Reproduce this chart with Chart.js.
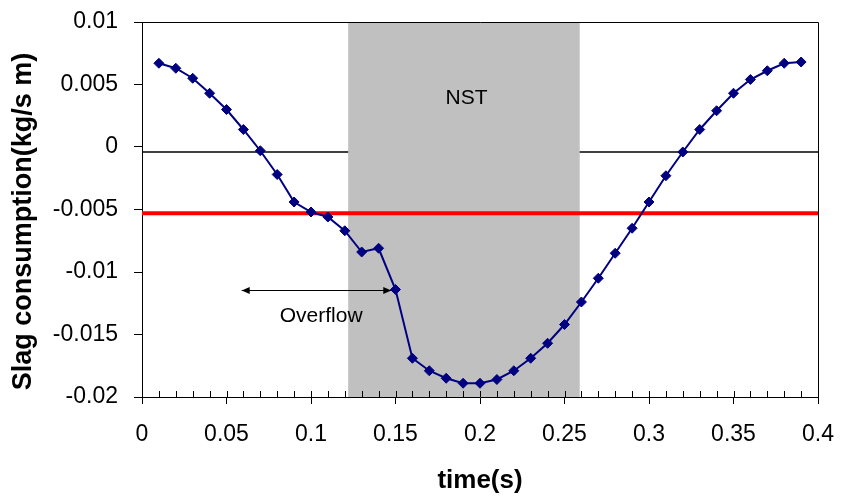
<!DOCTYPE html>
<html>
<head>
<meta charset="utf-8">
<title>Slag consumption</title>
<script src="https://cdn.jsdelivr.net/npm/chart.js@4.4.1/dist/chart.umd.min.js"></script>
<style>
  html, body { margin: 0; padding: 0; background: #fff; }
  canvas { display: block; }
</style>
</head>
<body>
<canvas id="slag-chart" width="854" height="496"></canvas>
<script>
// time (s) and slag consumption (kg/s m)
const times = [
    0.01, 0.02, 0.03, 0.04, 0.05, 0.06, 0.07, 0.08, 0.09, 0.10,
    0.11, 0.12, 0.13, 0.14, 0.15, 0.16, 0.17, 0.18, 0.19, 0.20,
    0.21, 0.22, 0.23, 0.24, 0.25, 0.26, 0.27, 0.28, 0.29, 0.30,
    0.31, 0.32, 0.33, 0.34, 0.35, 0.36, 0.37, 0.38, 0.39
];
const consumption = [
    0.0067, 0.0063, 0.0055, 0.0043, 0.0030, 0.0014, -0.0003, -0.0022, -0.0044, -0.0052,
    -0.0056, -0.0067, -0.0084, -0.0081, -0.0114, -0.0169, -0.0179, -0.0185, -0.0189, -0.0189,
    -0.0186, -0.0179, -0.0169, -0.0157, -0.0142, -0.0124, -0.0105, -0.0085, -0.0065, -0.0044,
    -0.0023, -0.0004, 0.0014, 0.0029, 0.0043, 0.0054, 0.0061, 0.0067, 0.0068
];

// reference lines, shaded NST window and the overflow arrow
const baseLevel = -0.0004;
const thresholdLevel = -0.0053;
const nstRange = [0.122, 0.259];
const overflowRange = [0.059, 0.1475];
const overflowLevel = -0.0114;
const labels = [
    { text: 'NST', x: 0.192, y: 0.0039 },
    { text: 'Overflow', x: 0.106, y: -0.0135 }
];

const xRange = [0, 0.4];
const yRange = [-0.02, 0.01];
const xStep = 0.05;
const xMinorStep = 0.01;
const yStep = 0.005;
const yTitle = 'Slag consumption(kg/s m)';

const FONT = "'Liberation Sans', Arial, sans-serif";

function fmt(v) {
    return String(Number(v.toFixed(4)));
}

const decorations = {
    id: 'decorations',
    beforeDatasetsDraw(chart) {
        const { ctx, chartArea: a, scales: { x, y } } = chart;
        ctx.save();
        // thin black line
        const yb = y.getPixelForValue(baseLevel);
        ctx.strokeStyle = '#000';
        ctx.lineWidth = 1.5;
        ctx.beginPath();
        ctx.moveTo(a.left, yb);
        ctx.lineTo(a.right, yb);
        ctx.stroke();
        // NST band
        const x0 = x.getPixelForValue(nstRange[0]);
        const x1 = x.getPixelForValue(nstRange[1]);
        ctx.fillStyle = '#c0c0c0';
        ctx.fillRect(x0, a.top, x1 - x0, a.bottom - a.top);
        ctx.restore();
    },
    afterDatasetsDraw(chart) {
        const { ctx, chartArea: a, scales: { x, y } } = chart;
        ctx.save();
        // frame top + right
        ctx.strokeStyle = '#000';
        ctx.lineWidth = 1;
        ctx.beginPath();
        ctx.moveTo(Math.round(a.left) + 0.5, Math.round(a.top) + 0.5);
        ctx.lineTo(Math.round(a.right) + 0.5, Math.round(a.top) + 0.5);
        ctx.lineTo(Math.round(a.right) + 0.5, a.bottom);
        ctx.stroke();

        // inner minor ticks on the time axis
        ctx.beginPath();
        const n = Math.round((xRange[1] - xRange[0]) / xMinorStep);
        for (let i = 1; i < n; i++) {
            const px = Math.round(x.getPixelForValue(xRange[0] + i * xMinorStep)) + 0.5;
            ctx.moveTo(px, a.bottom);
            ctx.lineTo(px, a.bottom - 6);
        }
        ctx.stroke();

        // overflow arrow
        const ay = Math.round(y.getPixelForValue(overflowLevel)) + 0.5;
        const ax0 = x.getPixelForValue(overflowRange[0]);
        const ax1 = x.getPixelForValue(overflowRange[1]);
        ctx.beginPath();
        ctx.moveTo(ax0, ay);
        ctx.lineTo(ax1, ay);
        ctx.stroke();
        ctx.fillStyle = '#000';
        ctx.beginPath();
        ctx.moveTo(ax0, ay);
        ctx.lineTo(ax0 + 8, ay - 3.5);
        ctx.lineTo(ax0 + 8, ay + 3.5);
        ctx.closePath();
        ctx.moveTo(ax1, ay);
        ctx.lineTo(ax1 - 8, ay - 3.5);
        ctx.lineTo(ax1 - 8, ay + 3.5);
        ctx.closePath();
        ctx.fill();

        // text labels
        ctx.font = '21px ' + FONT;
        ctx.textAlign = 'center';
        ctx.textBaseline = 'middle';
        labels.forEach(l => {
            ctx.fillText(l.text, x.getPixelForValue(l.x), y.getPixelForValue(l.y));
        });

        // y axis title, sits a little below the middle of the axis
        ctx.font = 'bold 27px ' + FONT;
        ctx.translate(24, (a.top + a.bottom) / 2 + 12);
        ctx.rotate(-Math.PI / 2);
        ctx.fillText(yTitle, 0, 0);
        ctx.restore();
    }
};

new Chart(document.getElementById('slag-chart'), {
    type: 'line',
    data: {
        datasets: [{
            data: times.map((t, i) => ({ x: t, y: consumption[i] })),
            borderColor: '#000080',
            backgroundColor: '#000080',
            borderWidth: 2,
            pointStyle: 'rectRot',
            pointRadius: 5,
            pointBorderWidth: 1,
            tension: 0,
            order: 0
        }, {
            data: [{ x: xRange[0], y: thresholdLevel }, { x: xRange[1], y: thresholdLevel }],
            borderColor: '#ff0000',
            borderWidth: 4,
            pointRadius: 0,
            order: 1
        }]
    },
    options: {
        responsive: false,
        animation: false,
        layout: { padding: { top: 22, right: 36, left: 0, bottom: 0 } },
        plugins: { legend: { display: false }, tooltip: { enabled: false } },
        scales: {
            x: {
                type: 'linear',
                min: xRange[0],
                max: xRange[1],
                afterFit(scale) {
                    scale.height = 99;
                    scale.paddingLeft = 0;
                    scale.paddingRight = 0;
                },
                ticks: {
                    stepSize: xStep,
                    color: '#000',
                    padding: 17,
                    maxRotation: 0,
                    font: { family: FONT, size: 23 },
                    callback: fmt
                },
                grid: { drawOnChartArea: false, drawTicks: true, tickLength: 7, color: '#000' },
                border: { display: true, color: '#000', width: 1 },
                title: {
                    display: true,
                    text: 'time(s)',
                    color: '#000',
                    font: { family: FONT, size: 26, weight: 'bold' },
                    padding: { top: 0, bottom: 0 }
                }
            },
            y: {
                min: yRange[0],
                max: yRange[1],
                afterFit(scale) {
                    scale.width = 142;
                    scale.paddingTop = 0;
                    scale.paddingBottom = 0;
                },
                ticks: {
                    stepSize: yStep,
                    color: '#000',
                    padding: 16,
                    font: { family: FONT, size: 23 },
                    callback: fmt
                },
                grid: { drawOnChartArea: false, drawTicks: true, tickLength: 8, color: '#000' },
                border: { display: true, color: '#000', width: 1 }
            }
        }
    },
    plugins: [decorations]
});
</script>
</body>
</html>
